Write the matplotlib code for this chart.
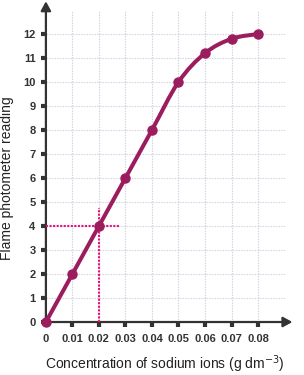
import numpy as np
import matplotlib.pyplot as plt
from matplotlib.path import Path
from matplotlib.patches import PathPatch

plt.rcParams['font.family'] = ['Liberation Sans', 'DejaVu Sans']

# data
conc = [0.0, 0.01, 0.02, 0.03, 0.04, 0.05, 0.06, 0.07, 0.08]
reading = [0, 2, 4, 6, 8, 10, 11.2, 11.8, 12]
x_ticks = [0, 0.01, 0.02, 0.03, 0.04, 0.05, 0.06, 0.07, 0.08]
x_labels = ['0', '0.01', '0.02', '0.03', '0.04', '0.05', '0.06', '0.07', '0.08']
y_ticks = list(range(0, 13))
read_at = 4
conc_at = 0.02

line_col = '#9b1d5e'
guide_col = '#e8107a'
axis_col = '#333333'
grid_col = '#cfcfe0'


def smooth_path(xs, ys):
    # catmull-rom through the points, drawn as cubic bezier segments
    pts = np.column_stack([xs, ys]).astype(float)
    verts = [pts[0]]
    codes = [Path.MOVETO]
    n = len(pts)
    for i in range(n - 1):
        p0 = pts[i - 1] if i > 0 else pts[i]
        p1 = pts[i]
        p2 = pts[i + 1]
        p3 = pts[i + 2] if i + 2 < n else pts[i + 1]
        c1 = p1 + (p2 - p0) / 6.0
        c2 = p2 - (p3 - p1) / 6.0
        verts += [c1, c2, p2]
        codes += [Path.CURVE4] * 3
    return Path(verts, codes)


fig = plt.figure(figsize=(3.04, 3.75), dpi=100)
ax = fig.add_axes([0.151, 0.1413, 0.785, 0.832])

ax.set_xlim(0, 0.09)
ax.set_ylim(0, 13)

ax.set_xticks(x_ticks)
ax.set_xticklabels(x_labels)
ax.set_yticks(y_ticks)

ax.grid(True, color=grid_col, linestyle=(0, (1.2, 1.2)), linewidth=0.8)
ax.set_axisbelow(True)

for s in ax.spines.values():
    s.set_visible(False)

ax.tick_params(axis='both', length=3.5, width=3, color=axis_col, direction='out',
               labelsize=8, labelcolor=axis_col)
ax.tick_params(axis='x', pad=5)
ax.tick_params(axis='y', pad=4)
for lab in ax.get_xticklabels() + ax.get_yticklabels():
    lab.set_fontweight('bold')

# axes with arrow heads
ax.annotate('', xy=(0, 1.028), xytext=(0, 0), xycoords='axes fraction',
            arrowprops=dict(arrowstyle='-|>,head_length=0.55,head_width=0.3',
                            color=axis_col, lw=1.6, shrinkA=0, shrinkB=0))
ax.annotate('', xy=(1.033, 0), xytext=(0, 0), xycoords='axes fraction',
            arrowprops=dict(arrowstyle='-|>,head_length=0.55,head_width=0.3',
                            color=axis_col, lw=1.6, shrinkA=0, shrinkB=0))

# reading guide lines
ax.plot([0, 0.028], [read_at, read_at], color=guide_col, linestyle=(0, (1, 0.7)),
        linewidth=1.5, zorder=3)
ax.plot([conc_at, conc_at], [0, 4.75], color=guide_col, linestyle=(0, (1, 0.7)),
        linewidth=1.5, zorder=3)

ax.add_patch(PathPatch(smooth_path(conc, reading), facecolor='none',
                       edgecolor=line_col, linewidth=2.9, capstyle='round',
                       zorder=4))
ax.plot(conc, reading, 'o', color=line_col, markersize=6.5, zorder=5,
        clip_on=False)

ax.set_xlabel('Concentration of sodium ions (g dm$^{-3}$)', fontsize=10,
              color='#222222', labelpad=7)
ax.set_ylabel('Flame photometer reading', fontsize=10, color='#222222')
ax.yaxis.set_label_coords(-0.135, 0.462)

fig.savefig('out.png', dpi=100)
